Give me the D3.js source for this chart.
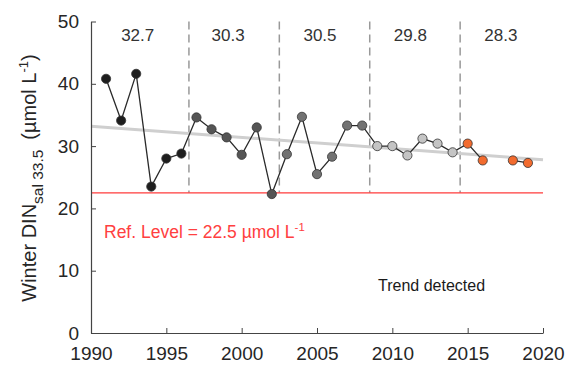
<!DOCTYPE html>
<html>
<head>
<meta charset="utf-8">
<script src="https://cdn.jsdelivr.net/npm/d3@7"></script>
<style>
  body { margin: 0; background: #fff; }
  svg { font-family: "Liberation Sans", Arial, sans-serif; }
</style>
</head>
<body>
<svg id="chart" width="570" height="365"></svg>
<script>
// winter DIN series, 2017 missing
const years = [1991, 1992, 1993, 1994, 1995, 1996, 1997, 1998, 1999, 2000,
  2001, 2002, 2003, 2004, 2005, 2006, 2007, 2008, 2009, 2010,
  2011, 2012, 2013, 2014, 2015, 2016, 2017, 2018, 2019];
const din = [40.8, 34.1, 41.6, 23.5, 28.0, 28.8, 34.6, 32.7, 31.4, 28.6,
  33.0, 22.3, 28.7, 34.7, 25.5, 28.3, 33.3, 33.3, 30.0, 30.0,
  28.5, 31.2, 30.4, 29.0, 30.4, 27.7, null, 27.7, 27.3];

const periodBreaks = [1996.5, 2002.5, 2008.5, 2014.5];
const periodMeans = ["32.7", "30.3", "30.5", "29.8", "28.3"];
const periodLabelYears = [1993.1, 1999.1, 2005.2, 2011.2, 2017.2];
const periodColors = ["#1e1e1e", "#555555", "#727272", "#c4c4c4", "#f26b2e"];

const trendYears = [1990, 2020];
const trendValues = [33.2, 27.8];
const refLevel = 22.5;

const xTicks = [1990, 1995, 2000, 2005, 2010, 2015, 2020];
const yTicks = [0, 10, 20, 30, 40, 50];

const svg = d3.select("#chart");
const x = d3.scaleLinear().domain([1990, 2020]).range([91, 543]);
const y = d3.scaleLinear().domain([0, 50]).range([333, 21.5]);

const data = years.map((yr, i) => ({ year: yr, v: din[i] }));
function periodOf(yr) {
  let p = 0;
  periodBreaks.forEach(b => { if (yr > b) p++; });
  return p;
}

// period dividers
svg.selectAll(".div")
  .data(periodBreaks)
  .enter()
  .append("line")
  .attr("x1", d => x(d)).attr("x2", d => x(d))
  .attr("y1", y(50)).attr("y2", y(refLevel))
  .attr("stroke", "#999")
  .attr("stroke-width", 1.5)
  .attr("stroke-dasharray", "8,5");

// period means
svg.selectAll(".mean")
  .data(periodMeans)
  .enter()
  .append("text")
  .attr("x", (d, i) => x(periodLabelYears[i]))
  .attr("y", 41)
  .attr("text-anchor", "middle")
  .style("font-size", "17px")
  .style("fill", "#333")
  .text(d => d);

// reference level
svg.append("line")
  .attr("x1", x(1990)).attr("x2", x(2020))
  .attr("y1", y(refLevel)).attr("y2", y(refLevel))
  .attr("stroke", "#ff3b3b")
  .attr("stroke-width", 1.3);

// trend
svg.append("line")
  .attr("x1", x(trendYears[0])).attr("x2", x(trendYears[1]))
  .attr("y1", y(trendValues[0])).attr("y2", y(trendValues[1]))
  .attr("stroke", "#cfcfcf")
  .attr("stroke-width", 3);

// series line
const line = d3.line()
  .defined(d => d.v != null)
  .x(d => x(d.year))
  .y(d => y(d.v));

svg.append("path")
  .datum(data)
  .attr("d", line)
  .attr("fill", "none")
  .attr("stroke", "#2a2a2a")
  .attr("stroke-width", 1.3);

svg.selectAll(".pt")
  .data(data.filter(d => d.v != null))
  .enter()
  .append("circle")
  .attr("cx", d => x(d.year))
  .attr("cy", d => y(d.v))
  .attr("r", 4.6)
  .attr("fill", d => periodColors[periodOf(d.year)])
  .attr("stroke", "#333")
  .attr("stroke-width", 0.8);

// axes
const xAxis = svg.append("g")
  .attr("transform", "translate(0,333)")
  .call(d3.axisBottom(x).tickValues(xTicks).tickFormat(d3.format("d"))
    .tickSize(-5).tickSizeOuter(0).tickPadding(14));
const yAxis = svg.append("g")
  .attr("transform", "translate(91,0)")
  .call(d3.axisLeft(y).tickValues(yTicks)
    .tickSize(-5).tickSizeOuter(0).tickPadding(12));

[xAxis, yAxis].forEach(g => {
  g.select(".domain").attr("stroke", "#444").attr("stroke-width", 1.2);
  g.selectAll(".tick line").attr("stroke", "#444");
  g.selectAll(".tick text")
    .style("font-size", "19px")
    .style("font-family", "Liberation Sans, Arial, sans-serif")
    .attr("fill", "#262626");
});

// y label
const ylab = svg.append("text")
  .attr("transform", "translate(36,178) rotate(-90)")
  .attr("text-anchor", "middle")
  .style("font-size", "20px")
  .style("fill", "#262626");
ylab.append("tspan").text("Winter DIN");
ylab.append("tspan").attr("dy", 7).style("font-size", "15.5px").text("sal 33.5");
ylab.append("tspan").attr("dy", -7).text("\u2002(\u00b5mol L");
ylab.append("tspan").attr("dy", -8).style("font-size", "13px").text("-1");
ylab.append("tspan").attr("dy", 8).text(")");

// annotations
const ref = svg.append("text")
  .attr("x", 104)
  .attr("y", 238)
  .style("font-size", "17.5px")
  .style("fill", "#ff4040");
ref.append("tspan").text("Ref. Level = " + refLevel + " \u00b5mol L");
ref.append("tspan").attr("dy", -7).style("font-size", "11.5px").text("-1");

svg.append("text")
  .attr("x", 378)
  .attr("y", 291)
  .style("font-size", "16px")
  .style("fill", "#1a1a1a")
  .text("Trend detected");
</script>
</body>
</html>
